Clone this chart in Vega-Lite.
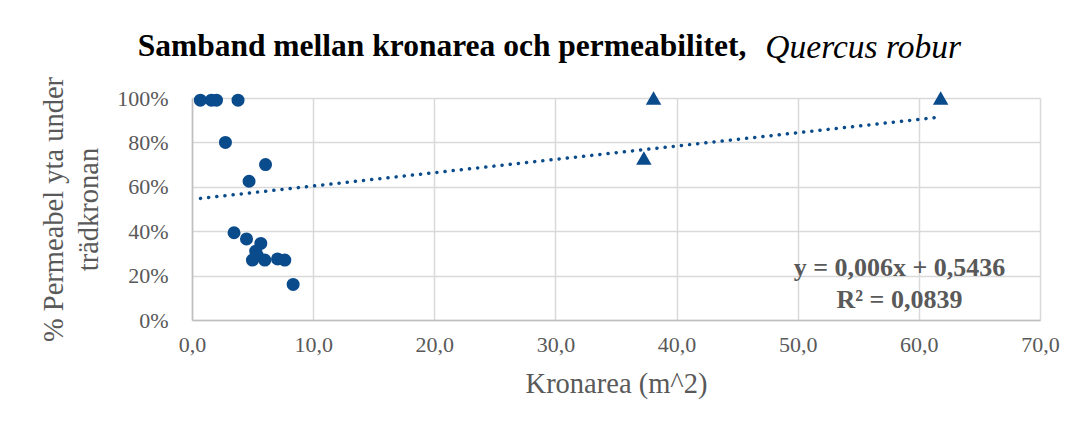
{
  "$schema": "https://vega.github.io/schema/vega-lite/v6.json",
  "autosize": "none",
  "width": 848,
  "height": 222,
  "padding": {"left": 192, "top": 98, "right": 36, "bottom": 108},
  "background": "white",
  "title": {
    "text": "Samband mellan kronarea och permeabilitet,",
    "anchor": "start",
    "dx": 98,
    "dy": 32,
    "offset": 0,
    "font": "Liberation Serif",
    "fontSize": 31.5,
    "fontWeight": "bold",
    "color": "#000000"
  },
  "config": {
    "locale": {
      "number": {"decimal": ",", "thousands": " ", "grouping": [3], "currency": ["", " kr"]}
    },
    "view": {"stroke": null},
    "axis": {
      "labelFont": "Liberation Serif",
      "titleFont": "Liberation Serif",
      "labelColor": "#595959",
      "titleColor": "#595959",
      "labelFontSize": 22,
      "titleFontSize": 28.5,
      "titleFontWeight": "normal",
      "gridColor": "#d9d9d9",
      "gridWidth": 1.5,
      "domainColor": "#bfbfbf",
      "domainWidth": 1.5,
      "ticks": false
    }
  },
  "datasets": {
    "circles": [
      {"kronarea": 0.69, "permeabel": 0.99},
      {"kronarea": 1.6, "permeabel": 0.99},
      {"kronarea": 2.02, "permeabel": 0.99},
      {"kronarea": 3.8, "permeabel": 0.99},
      {"kronarea": 2.76, "permeabel": 0.8},
      {"kronarea": 6.07, "permeabel": 0.7},
      {"kronarea": 4.71, "permeabel": 0.625},
      {"kronarea": 3.47, "permeabel": 0.393},
      {"kronarea": 4.5, "permeabel": 0.365},
      {"kronarea": 5.68, "permeabel": 0.345},
      {"kronarea": 5.26, "permeabel": 0.31},
      {"kronarea": 5.4, "permeabel": 0.29},
      {"kronarea": 4.99, "permeabel": 0.27},
      {"kronarea": 6.01, "permeabel": 0.27},
      {"kronarea": 7.06, "permeabel": 0.275},
      {"kronarea": 7.66, "permeabel": 0.27},
      {"kronarea": 8.35, "permeabel": 0.16}
    ],
    "triangles": [
      {"kronarea": 38.1, "permeabel": 1.0},
      {"kronarea": 37.3, "permeabel": 0.73},
      {"kronarea": 61.8, "permeabel": 1.0}
    ],
    "trend": [
      {"kronarea": 0.7, "permeabel": 0.5478},
      {"kronarea": 61.9, "permeabel": 0.915}
    ],
    "labels": [
      {"kronarea": 58.4, "permeabel": 0.197, "text": "y = 0,006x + 0,5436"},
      {"kronarea": 58.4, "permeabel": 0.056, "text": "R² = 0,0839"}
    ],
    "titlepart": [
      {"kronarea": 47.33, "permeabel": 1.1806, "text": "Quercus robur"}
    ]
  },
  "layer": [
    {
      "data": {"name": "trend"},
      "mark": {"type": "line", "color": "#0a4b8c", "strokeWidth": 3.5, "strokeDash": [0.1, 8.1], "strokeCap": "round"},
      "encoding": {
        "x": {
          "field": "kronarea", "type": "quantitative",
          "scale": {"domain": [0, 70], "nice": false},
          "axis": {"values": [0, 10, 20, 30, 40, 50, 60, 70], "format": ".1f", "title": "Kronarea (m^2)", "labelPadding": 14, "titlePadding": 14, "labelFlush": false}
        },
        "y": {
          "field": "permeabel", "type": "quantitative",
          "scale": {"domain": [0, 1], "nice": false},
          "axis": {"values": [0, 0.2, 0.4, 0.6, 0.8, 1], "format": ".0%", "title": ["% Permeabel yta under", "trädkronan"], "labelPadding": 24, "titlePadding": 13, "titleLineHeight": 35}
        }
      }
    },
    {
      "data": {"name": "circles"},
      "mark": {"type": "point", "shape": "circle", "filled": true, "opacity": 1, "size": 170, "color": "#0a4b8c"},
      "encoding": {
        "x": {"field": "kronarea", "type": "quantitative"},
        "y": {"field": "permeabel", "type": "quantitative"}
      }
    },
    {
      "data": {"name": "triangles"},
      "mark": {"type": "point", "shape": "triangle-up", "filled": true, "opacity": 1, "size": 240, "color": "#0a4b8c"},
      "encoding": {
        "x": {"field": "kronarea", "type": "quantitative"},
        "y": {"field": "permeabel", "type": "quantitative"}
      }
    },
    {
      "data": {"name": "labels"},
      "mark": {"type": "text", "font": "Liberation Serif", "fontSize": 26, "fontWeight": "bold", "color": "#595959", "align": "center", "baseline": "alphabetic"},
      "encoding": {
        "x": {"field": "kronarea", "type": "quantitative"},
        "y": {"field": "permeabel", "type": "quantitative"},
        "text": {"field": "text"}
      }
    },
    {
      "data": {"name": "titlepart"},
      "mark": {"type": "text", "font": "Liberation Serif", "fontSize": 33.5, "fontStyle": "italic", "color": "#000000", "align": "left", "baseline": "alphabetic", "clip": false},
      "encoding": {
        "x": {"field": "kronarea", "type": "quantitative"},
        "y": {"field": "permeabel", "type": "quantitative"},
        "text": {"field": "text"}
      }
    }
  ]
}
